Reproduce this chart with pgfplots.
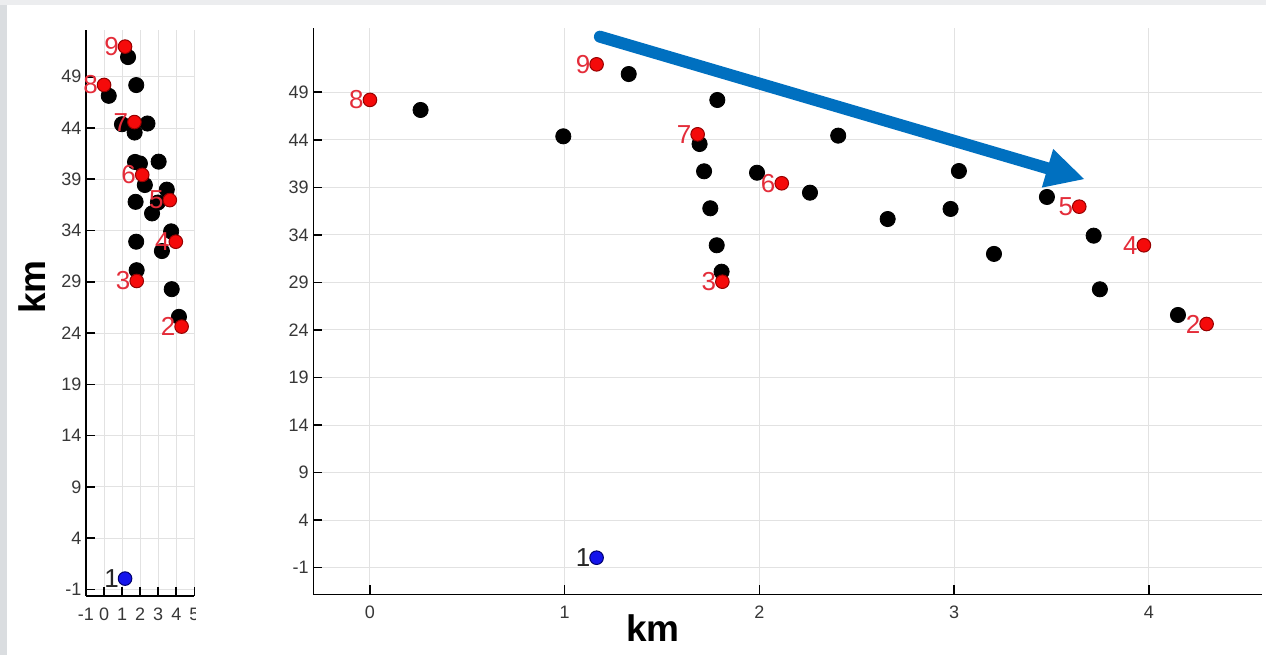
\documentclass[border=0pt]{standalone}
\usepackage{pgfplots}
\pgfplotsset{compat=1.18}
\usepackage{pgfplotstable}
\usepackage{fontspec}
\setmainfont{Liberation Sans}
\usetikzlibrary{arrows.meta}
\definecolor{gridc}{RGB}{226,226,226}
\definecolor{tickc}{RGB}{55,55,55}
\definecolor{lblred}{RGB}{228,45,58}
\definecolor{markred}{RGB}{245,10,10}
\definecolor{markredd}{RGB}{150,0,0}
\definecolor{markblue}{RGB}{20,20,235}
\definecolor{markblued}{RGB}{0,0,110}
\definecolor{arrowblue}{RGB}{0,112,192}
\definecolor{leftgray}{RGB}{218,221,224}
\definecolor{topgray}{RGB}{236,237,239}

\pgfplotstableread{
x y
0.260 47.14
0.993 44.37
1.329 50.92
1.784 48.19
1.693 43.56
1.716 40.69
1.748 36.80
1.781 32.91
1.806 30.13
1.988 40.54
2.405 44.44
2.260 38.44
2.659 35.67
3.025 40.72
2.982 36.73
3.205 32.00
3.477 37.99
3.717 33.92
3.749 28.28
4.150 25.58
}\blackpts

\pgfplotstableread{
x y lab
4.297 24.63 2
1.810 29.08 3
3.975 32.91 4
3.643 36.97 5
2.115 39.43 6
1.683 44.58 7
0.000 48.20 8
1.164 51.94 9
}\redpts

\pgfplotstableread{
x y lab
1.164 0.05 1
}\bluepts

\pgfplotsset{
  mystyle/.style={
    scale only axis,
    axis lines*=left,
    tick align=inside,
    major tick length=4.5pt,
    axis line style={black, line width=0.8pt},
    tick style={black, line width=0.8pt},
    grid=major,
    major grid style={gridc, line width=0.5pt},
    ytick={-1,4,...,49},
    /pgf/number format/assume math mode=true,
    tick label style={font=\fontsize{9}{10}\selectfont, text=tickc},
    yticklabel style={inner sep=0pt, xshift=-2.1pt},
    xticklabel style={inner sep=0pt, yshift=-5.8pt},
    clip=false,
  },
  blackstyle/.style={only marks, mark=*, mark size=3.8pt, mark options={fill=black, draw=black}},
  redstyle/.style={only marks, mark=*, mark size=3.4pt,
    mark options={fill=markred, draw=markredd, line width=0.5pt},
    nodes near coords, point meta=explicit symbolic,
    nodes near coords style={anchor=east, inner sep=0pt, xshift=-2.9pt, text=lblred, font=\fontsize{13}{13}\selectfont}},
  bluestyle/.style={only marks, mark=*, mark size=3.4pt,
    mark options={fill=markblue, draw=markblued, line width=0.5pt},
    nodes near coords, point meta=explicit symbolic,
    nodes near coords style={anchor=east, inner sep=0pt, xshift=-2.9pt, text=black!85, font=\fontsize{13}{13}\selectfont}},
}

\begin{document}
\begin{tikzpicture}
\path[use as bounding box] (0,0) rectangle (633pt,327.5pt);
\fill[white] (0,0) rectangle (633pt,327.5pt);
\fill[leftgray] (0,0) rectangle (3.5pt,327.5pt);
\fill[topgray] (0,325pt) rectangle (633pt,327.5pt);

% left panel
\begin{scope}
\clip (0,0) rectangle (97.6pt,327.5pt);
\begin{axis}[mystyle,
  at={(43pt,29.65pt)}, anchor=south west,
  width=54.15pt, height=282.85pt,
  xmin=-1, xmax=5, ymin=-1.62, ymax=53.56,
  xtick={-1,0,...,5},
]
\addplot[blackstyle] table {\blackpts};
\addplot[redstyle] table[meta=lab] {\redpts};
\addplot[bluestyle] table[meta=lab] {\bluepts};
\end{axis}
\end{scope}

% right panel
\begin{axis}[mystyle,
  at={(156.65pt,30.35pt)}, anchor=south west,
  width=474.2pt, height=283pt,
  xmin=-0.291, xmax=4.58, ymin=-3.80, ymax=55.73,
  xtick={0,1,...,4},
]
\addplot[blackstyle] table {\blackpts};
\addplot[redstyle] table[meta=lab] {\redpts};
\addplot[bluestyle] table[meta=lab] {\bluepts};
\draw[arrowblue, line width=6pt, line cap=round, -{Triangle[length=19.5pt,width=18.6pt]}]
  (axis cs:1.181,54.85) -- (axis cs:3.672,39.85);
\end{axis}

\node[font=\bfseries\fontsize{18.5}{20}\selectfont, rotate=90] at (16.25pt,184pt) {km};
\node[font=\bfseries\fontsize{18.5}{20}\selectfont] at (326.5pt,13.5pt) {km};
\end{tikzpicture}
\end{document}
